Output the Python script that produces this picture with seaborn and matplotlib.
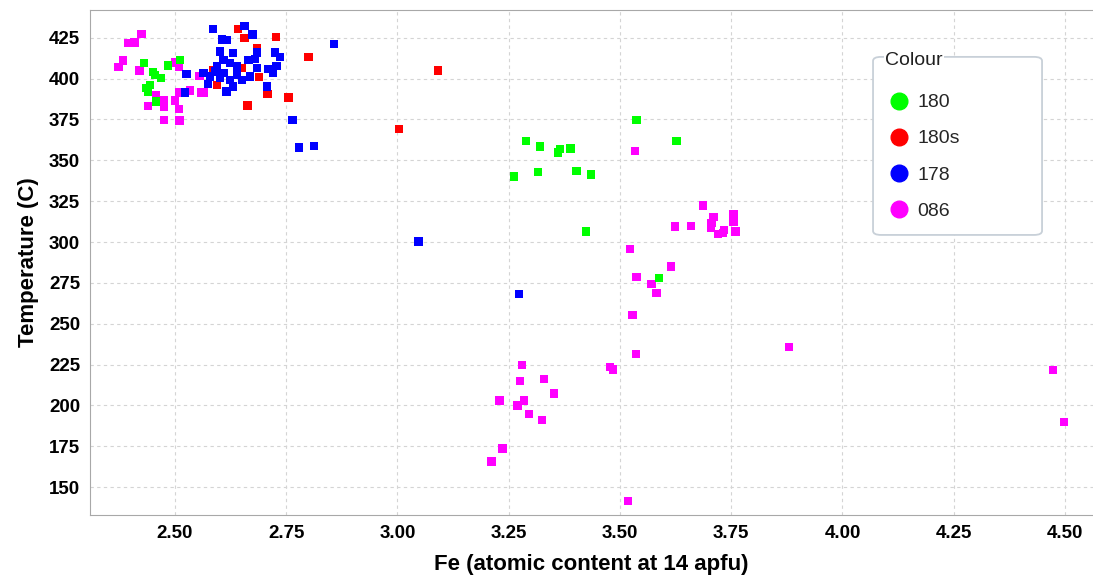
#!/usr/bin/env python3
"""Temperature vs Fe content scatter, coloured by sample group."""
import pandas as pd
import matplotlib
matplotlib.use('Agg')
import matplotlib.pyplot as plt
from matplotlib.patches import FancyBboxPatch
import seaborn as sns

# Fe (apfu) and temperature (C), one pair of lists per sample
fe_180 = [2.430, 2.450, 2.455, 2.468, 2.484, 2.511, 2.444, 2.435, 2.439, 2.457,
          3.289, 3.321, 3.365, 3.361, 3.389, 3.262, 3.316, 3.402, 3.435, 3.537,
          3.627, 3.423, 3.587]
t_180 = [409.7, 404, 402, 400.5, 408, 411.5, 396, 394.4, 392, 386,
         362, 358.4, 357, 354.8, 357.2, 340, 343, 343.4, 341.3, 374.6,
         362, 306.4, 278]

fe_180s = [2.642, 2.656, 2.727, 2.685, 2.650, 2.689, 2.595, 2.585, 2.708, 2.663,
           2.755, 2.800, 3.091, 3.003]
t_180s = [430.5, 424.8, 425.6, 418.7, 406.5, 401, 396, 405, 390.7, 383.5,
          388.4, 413, 405, 369]

fe_178 = [2.585, 2.656, 2.674, 2.605, 2.616, 2.601, 2.631, 2.684, 2.680, 2.725,
          2.736, 2.665, 2.609, 2.624, 2.594, 2.639, 2.728, 2.710, 2.721, 2.684,
          2.590, 2.609, 2.639, 2.669, 2.526, 2.564, 2.579, 2.624, 2.575, 2.631,
          2.616, 2.522, 2.707, 2.650, 2.601, 2.858, 2.764, 2.779, 2.812, 3.047,
          3.273]
t_178 = [430.3, 432, 427, 424, 423.4, 416.6, 415.6, 416, 412, 416,
         413, 411.5, 411.5, 409.5, 407.4, 407.4, 407.8, 405.8, 403.4, 406.4,
         404.4, 403.4, 402.3, 401.3, 402.8, 403.4, 401.3, 399.3, 396.8, 395.2,
         392.1, 391.5, 395.2, 399.3, 400.3, 421, 374.8, 357.8, 358.9, 300.3,
         268.4]

fe_086 = [2.425, 2.395, 2.409, 2.384, 2.373, 2.420, 2.500, 2.509, 2.555, 2.560,
          2.534, 2.509, 2.457, 2.474, 2.500, 2.440, 2.476, 2.509, 2.476, 2.510,
          2.564,
          3.522, 3.537, 3.571, 3.582, 3.615, 3.528, 3.536, 3.478, 3.485, 3.280,
          3.275, 3.329, 3.352, 3.229, 3.284, 3.270, 3.296, 3.325, 3.236, 3.211,
          3.518, 3.686, 3.624, 3.659, 3.710, 3.706, 3.704, 3.721, 3.734, 3.732,
          3.755, 3.755, 3.760, 3.534, 3.880, 4.473, 4.498]
t_086 = [427.2, 421.7, 422.1, 411.1, 407, 405, 409.9, 407.4, 401.7, 391.5,
         392.7, 391.5, 390, 386.6, 386.6, 383.4, 382.6, 381.3, 374.8, 374.4,
         391.5,
         295.6, 278.5, 274.2, 269, 285, 255.4, 231.7, 223.7, 222.1, 224.8,
         215, 216.4, 207.4, 203.1, 203.1, 200, 194.6, 191.1, 173.7, 165.8,
         141.5, 322.3, 309.5, 309.9, 315.2, 311.5, 308.5, 305, 307.4, 305.4,
         317.2, 312.1, 306.4, 355.8, 235.8, 221.7, 190]

groups = ['180', '180s', '178', '086']
colours = ['#00ff00', '#ff0000', '#0000ff', '#ff00ff']

df = pd.concat([
    pd.DataFrame({'Fe': fe_086, 'T': t_086, 'Colour': '086'}),
    pd.DataFrame({'Fe': fe_180, 'T': t_180, 'Colour': '180'}),
    pd.DataFrame({'Fe': fe_180s, 'T': t_180s, 'Colour': '180s'}),
    pd.DataFrame({'Fe': fe_178, 'T': t_178, 'Colour': '178'}),
], ignore_index=True)

sns.set_style('white')
plt.rcParams['font.family'] = ['Liberation Sans', 'DejaVu Sans']

fig = plt.figure(figsize=(10.93, 5.83), dpi=100)
ax = fig.add_axes([0.0823, 0.1166, 0.9177, 0.8664])

sns.scatterplot(data=df, x='Fe', y='T', hue='Colour', hue_order=groups,
                palette=dict(zip(groups, colours)), marker='s', s=36,
                linewidth=0, ax=ax, legend=False)

ax.set_xlim(2.309, 4.563)
ax.set_ylim(133, 442)
ax.set_xticks([2.5, 2.75, 3.0, 3.25, 3.5, 3.75, 4.0, 4.25, 4.5])
ax.set_xticklabels([f'{v:.2f}' for v in ax.get_xticks()])
ax.set_yticks(range(150, 426, 25))
ax.grid(True, color='#d4d4d4', linestyle=(0, (3, 3)), linewidth=0.8)
for side in ['left', 'bottom', 'top']:
    ax.spines[side].set_color('#a8a8a8')
ax.spines['right'].set_visible(False)
ax.tick_params(axis='both', length=4, color='#a8a8a8', labelsize=13.5,
               labelcolor='black', pad=3)
for lab in ax.get_xticklabels() + ax.get_yticklabels():
    lab.set_fontweight('bold')

ax.set_xlabel('Fe (atomic content at 14 apfu)', fontsize=16, fontweight='bold',
              color='black', labelpad=9)
ax.set_ylabel('Temperature (C)', fontsize=16, fontweight='bold',
              color='black', labelpad=7)

# legend: rounded box with the title sitting on its top edge
box = FancyBboxPatch((0.7807, 0.5545), 0.1685, 0.3525, transform=ax.transAxes,
                     boxstyle='round,pad=0,rounding_size=0.008',
                     facecolor='white', edgecolor='#c8d0d8', linewidth=1.3,
                     zorder=4)
ax.add_patch(box)
ax.text(0.7925, 0.899, 'Colour', transform=ax.transAxes, fontsize=14,
        color='#202020', va='center', ha='left', zorder=6,
        bbox=dict(facecolor='white', edgecolor='none', pad=1))

handles = [plt.Line2D([], [], marker='o', linestyle='', markersize=12,
                      markerfacecolor=c, markeredgecolor=c, label=g)
           for g, c in zip(groups, colours)]
leg = ax.legend(handles=handles, loc='upper left', bbox_to_anchor=(0.797, 0.834),
                fontsize=14, frameon=False, borderpad=0, labelspacing=0.95,
                handletextpad=0.45, handlelength=1.0, borderaxespad=0)
leg.set_zorder(7)

fig.savefig('out.png', dpi=100)
